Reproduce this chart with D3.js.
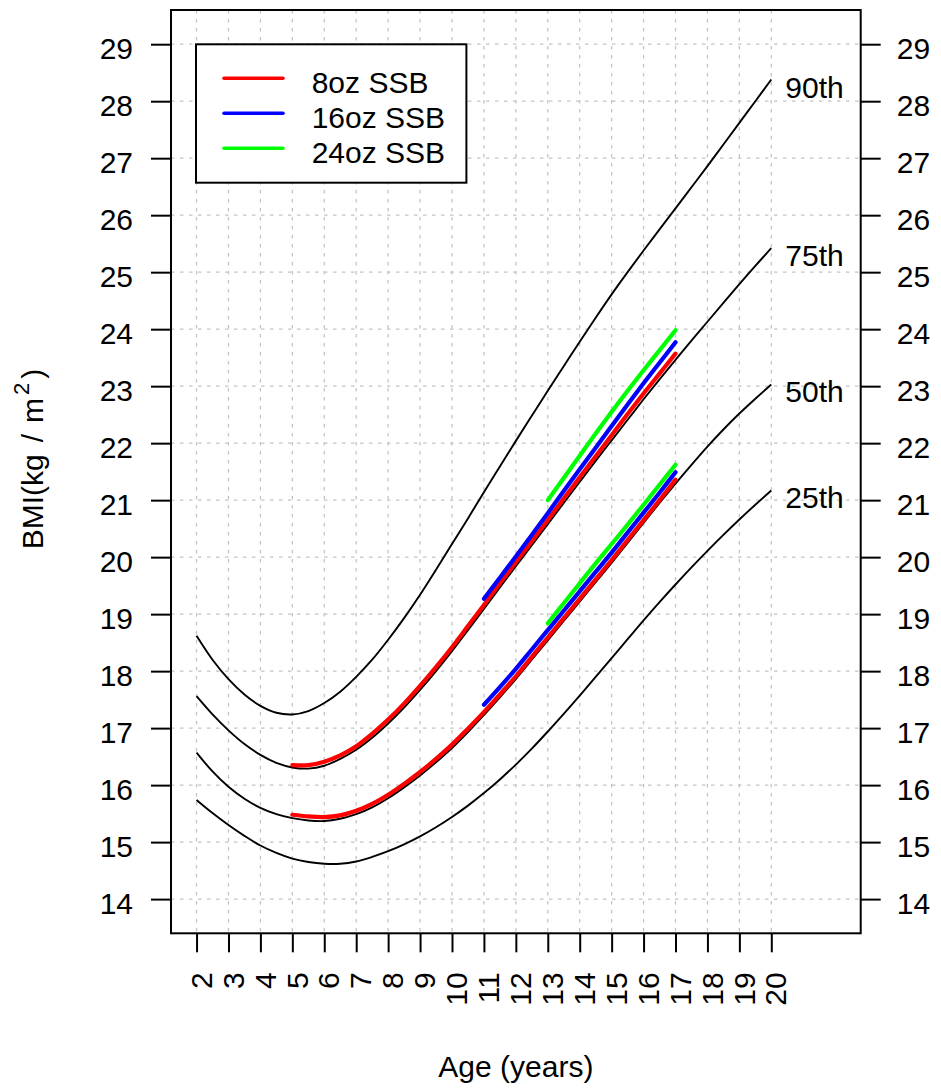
<!DOCTYPE html>
<html><head><meta charset="utf-8">
<script src="https://cdn.jsdelivr.net/npm/d3@7"></script>
<style>
html,body{margin:0;padding:0;background:#fff;}
text{font-family:"Liberation Sans",Arial,Helvetica,sans-serif;fill:#000;}
</style></head><body>
<svg id="chart" width="941" height="1089"></svg>
<script>
// ---- data ----
const ages = [2,2.5,3,3.5,4,4.5,5,5.5,6,6.5,7,7.5,8,8.5,9,9.5,10,10.5,11,11.5,12,12.5,13,13.5,14,14.5,15,15.5,16,16.5,17,17.5,18,18.5,19,19.5,20];
const p90 = [18.62,18.2,17.86,17.59,17.39,17.27,17.24,17.3,17.44,17.64,17.9,18.2,18.55,18.93,19.34,19.78,20.23,20.68,21.14,21.59,22.04,22.48,22.92,23.35,23.78,24.2,24.61,25.0,25.38,25.75,26.12,26.49,26.86,27.24,27.62,28.0,28.38];
const p75 = [17.56,17.24,16.96,16.72,16.53,16.39,16.31,16.29,16.34,16.46,16.62,16.83,17.08,17.36,17.67,18.0,18.35,18.72,19.09,19.47,19.84,20.21,20.58,20.95,21.32,21.69,22.05,22.41,22.77,23.12,23.46,23.8,24.13,24.46,24.79,25.11,25.42];
const p50 = [16.57,16.24,15.97,15.76,15.6,15.49,15.42,15.38,15.37,15.41,15.49,15.61,15.77,15.96,16.17,16.4,16.65,16.93,17.23,17.54,17.86,18.2,18.54,18.88,19.22,19.56,19.9,20.25,20.6,20.95,21.29,21.62,21.94,22.24,22.52,22.78,23.03];
const p25 = [15.74,15.51,15.3,15.11,14.94,14.81,14.71,14.65,14.62,14.62,14.66,14.74,14.84,14.96,15.1,15.26,15.44,15.64,15.86,16.1,16.36,16.64,16.94,17.25,17.57,17.9,18.23,18.56,18.89,19.21,19.52,19.82,20.11,20.39,20.66,20.92,21.17];
const percentileLabels = ["90th","75th","50th","25th"];

const ages8 = [5,5.5,6,6.5,7,7.5,8,8.5,9,9.5,10,10.5,11,11.5,12,12.5,13,13.5,14,14.5,15,15.5,16,16.5,17];
const ages16 = [11,11.5,12,12.5,13,13.5,14,14.5,15,15.5,16,16.5,17];
const ages24 = [13,13.5,14,14.5,15,15.5,16,16.5,17];
const ssb8Upper  = [16.35,16.35,16.41,16.52,16.68,16.9,17.15,17.43,17.74,18.07,18.42,18.79,19.16,19.54,19.91,20.28,20.65,21.03,21.4,21.77,22.14,22.51,22.87,23.22,23.57];
const ssb16Upper = [19.27,19.64,20.01,20.39,20.77,21.16,21.54,21.92,22.3,22.68,23.05,23.41,23.77];
const ssb24Upper = [21.0,21.39,21.78,22.17,22.55,22.92,23.28,23.63,23.98];
const ssb8Lower  = [15.48,15.45,15.44,15.47,15.55,15.67,15.83,16.02,16.23,16.46,16.71,16.99,17.28,17.59,17.91,18.25,18.59,18.93,19.27,19.61,19.95,20.3,20.65,21.0,21.36];
const ssb16Lower = [17.41,17.72,18.04,18.38,18.72,19.06,19.4,19.74,20.08,20.43,20.78,21.13,21.49];
const ssb24Lower = [18.84,19.19,19.54,19.89,20.23,20.57,20.92,21.27,21.62];

const legendLabels = ["8oz SSB","16oz SSB","24oz SSB"];
const legendColors = ["#ff0000","#0000ff","#00ff00"];
const xTicks = [2,3,4,5,6,7,8,9,10,11,12,13,14,15,16,17,18,19,20];
const yTicks = [14,15,16,17,18,19,20,21,22,23,24,25,26,27,28,29];

// ---- layout ----
const svg = d3.select("#chart");
const L = 171, R = 860.7, T = 10, B = 933.3;
const x = d3.scaleLinear().domain([1.2, 22.8]).range([L, R]);
const y = d3.scaleLinear().domain([13.4, 29.6]).range([B, T]);
const FS = 30;

svg.append("rect").attr("width",941).attr("height",1089).attr("fill","#fff");

// grid
const grid = svg.append("g");
grid.selectAll("line.v").data(xTicks).enter().append("line")
  .attr("x1", d=>x(d)).attr("x2", d=>x(d)).attr("y1", T).attr("y2", B)
  .attr("stroke","#c4c4c4").attr("stroke-width",1.3).attr("stroke-dasharray","3.5,5.5");
grid.selectAll("line.h").data(yTicks).enter().append("line")
  .attr("y1", d=>y(d)).attr("y2", d=>y(d)).attr("x1", L).attr("x2", R)
  .attr("stroke","#c4c4c4").attr("stroke-width",1.3).attr("stroke-dasharray","3.5,5.5");

// curves
const line = d3.line().x(d=>x(d[0])).y(d=>y(d[1])).curve(d3.curveCatmullRom.alpha(0.5));
const zip = (a,b)=>a.map((v,i)=>[v,b[i]]);
const pcts = [p90,p75,p50,p25];
pcts.forEach((p,i)=>{
  svg.append("path").attr("d", line(zip(ages,p))).attr("fill","none")
    .attr("stroke","#000").attr("stroke-width",1.9);
  svg.append("text").attr("x", x(20)+14).attr("y", y(p[p.length-1])+18)
    .attr("font-size",FS).text(percentileLabels[i]);
});

const colored = [
  [ages8, ssb8Upper, 0],[ages8, ssb8Lower, 0],
  [ages16, ssb16Upper, 1],[ages16, ssb16Lower, 1],
  [ages24, ssb24Upper, 2],[ages24, ssb24Lower, 2]
];
colored.forEach(([a,v,c])=>{
  svg.append("path").attr("d", line(zip(a,v))).attr("fill","none")
    .attr("stroke", legendColors[c]).attr("stroke-width",4.2).attr("stroke-linecap","round");
});

// box
svg.append("rect").attr("x",L).attr("y",T).attr("width",R-L).attr("height",B-T)
  .attr("fill","none").attr("stroke","#000").attr("stroke-width",2);

// axes
const axL = d3.axisLeft(y).tickValues(yTicks).tickSize(20).tickPadding(0).tickFormat(d3.format("d"));
const axR = d3.axisRight(y).tickValues(yTicks).tickSize(20).tickPadding(0).tickFormat(d3.format("d"));
const axB = d3.axisBottom(x).tickValues(xTicks).tickSize(19).tickPadding(0).tickFormat(d3.format("d"));
function styleAxis(g){
  g.select(".domain").remove();
  g.selectAll(".tick line").attr("stroke","#000").attr("stroke-width",2);
  g.selectAll(".tick text").attr("font-size",FS).attr("font-family",null).attr("fill","#000");
}
const gL = svg.append("g").attr("transform",`translate(${L},0)`).call(axL).call(styleAxis);
gL.selectAll(".tick text").attr("x",-38).attr("dy",null).attr("y",14.5).attr("text-anchor","end");
const gR = svg.append("g").attr("transform",`translate(${R},0)`).call(axR).call(styleAxis);
gR.selectAll(".tick text").attr("x",36).attr("dy",null).attr("y",14.5).attr("text-anchor","start");
const gB = svg.append("g").attr("transform",`translate(0,${B})`).call(axB).call(styleAxis);
gB.selectAll(".tick text").attr("dy",null).attr("y",0).attr("x",0)
  .attr("text-anchor","end").attr("transform","translate(14.7,39) rotate(-90)");

// axis titles
svg.append("text").attr("x",(L+R)/2).attr("y",1077).attr("text-anchor","middle")
  .attr("font-size",FS).text("Age (years)");
const yl = svg.append("text").attr("transform","translate(43,459) rotate(-90)")
  .attr("text-anchor","middle").attr("font-size",FS);
yl.append("tspan").text("BMI(kg");
yl.append("tspan").attr("dx",12).text("/");
yl.append("tspan").attr("dx",11).text("m");
yl.append("tspan").attr("font-size",22).attr("dy",-14).attr("dx",3).text("2");
yl.append("tspan").attr("dy",14).attr("dx",4).text(")");

// legend
const lg = svg.append("g");
lg.append("rect").attr("x",196).attr("y",44.3).attr("width",270.4).attr("height",138.4)
  .attr("fill","#fff").attr("stroke","#000").attr("stroke-width",2);
legendLabels.forEach((t,i)=>{
  const ly = 78.3 + i*35;
  lg.append("line").attr("x1",224).attr("x2",283).attr("y1",ly).attr("y2",ly)
    .attr("stroke",legendColors[i]).attr("stroke-width",3.5).attr("stroke-linecap","round");
  lg.append("text").attr("x",311.7).attr("y",ly+15).attr("font-size",FS).text(t);
});
</script>
</body></html>
